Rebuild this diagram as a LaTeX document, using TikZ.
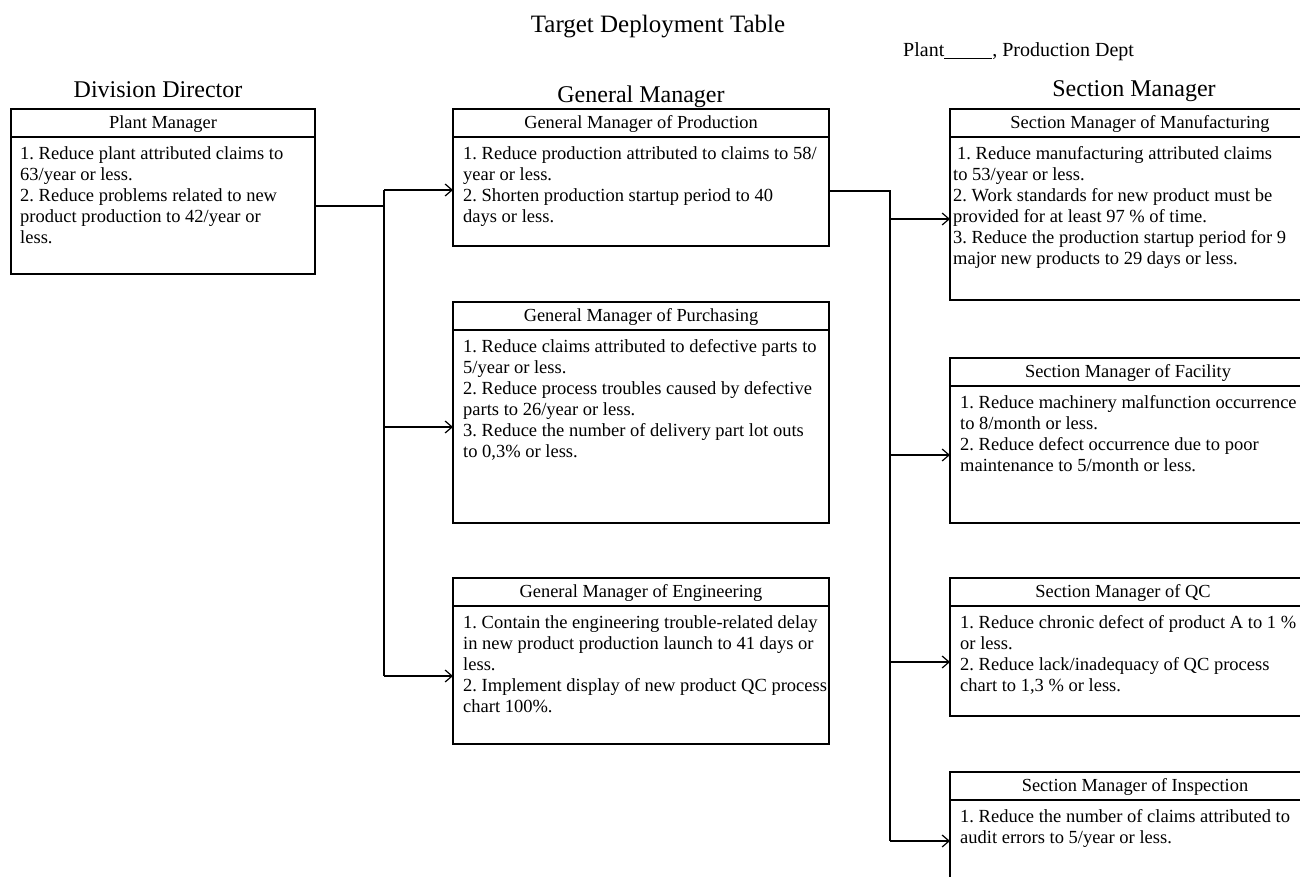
\documentclass[tikz,border=0pt]{standalone}
\usepackage{fontspec}
\setmainfont{Liberation Serif}
\usetikzlibrary{arrows.meta}

\tikzset{
  frame/.style={draw, line width=1.3pt, inner sep=0pt, outer sep=0pt, anchor=north west},
  rule/.style={line width=1.3pt},
  boxtitle/.style={anchor=base, inner sep=0pt, font=\fontsize{18.4}{21}\selectfont},
  boxbody/.style={anchor=north west, inner sep=0pt, align=left, font=\fontsize{18.5}{21}\selectfont\frenchspacing},
  colhead/.style={anchor=base, inner sep=0pt, font=\fontsize{24}{28}\selectfont},
  feed/.style={line width=2pt},
  link/.style={line width=1.2pt},
  arr/.style={line width=1.2pt, -{Straight Barb[length=7pt, width=12pt, line width=1.2pt]}},
}

% \goalbox{name}{left}{top}{width}{height}{title centre x}{body x offset}{title}{body}
\newcommand{\goalbox}[9]{%
  \node[frame, minimum width=#4, minimum height=#5] (#1) at (#2,#3) {};
  \draw[rule] ([shift={(0,28)}]#1.north west) -- ([shift={(0,28)}]#1.north east);
  \node[boxtitle] (#1-title) at (#6,#3+19.5) {#8};
  \node[boxbody] (#1-body) at (#2+#7,#3+35.3) {\strut#9};
}

\begin{document}
\begin{tikzpicture}[x=1pt, y=-1pt]
\useasboundingbox (0,0) rectangle (1300,877);
\clip (0,0) rectangle (1300,877);

% headings
\node[colhead, font=\fontsize{25}{29}\selectfont] (title) at (658,33) {Target Deployment Table};
\node[anchor=base west, inner sep=0pt, font=\fontsize{20}{24}\selectfont\frenchspacing] (plant) at (903,57)
  {Plant\underline{\hspace{48pt}}, Production Dept};
\node[colhead] (h-div) at (158,98) {Division Director};
\node[colhead] (h-gen) at (641,103) {General Manager};
\node[colhead] (h-sec) at (1134,97) {Section Manager};

% division level
\goalbox{pm}{11}{109}{304}{165}{163}{9}{Plant Manager}{%
1. Reduce plant attributed claims to\\
63/year or less.\\
2. Reduce problems related to new\\
product production to 42/year or\\
less.}

% general manager level
\goalbox{gmp}{453}{109}{376}{137}{641}{10}{General Manager of Production}{%
1. Reduce production attributed to claims to 58/\\
year or less.\\
2. Shorten production startup period to 40\\
days or less.}

\goalbox{gmu}{453}{302}{376}{221}{641}{10}{General Manager of Purchasing}{%
1. Reduce claims attributed to defective parts to\\
5/year or less.\\
2. Reduce process troubles caused by defective\\
parts to 26/year or less.\\
3. Reduce the number of delivery part lot outs\\
to 0,3\% or less.}

\goalbox{gme}{453}{578}{376}{166}{641}{10}{General Manager of Engineering}{%
1. Contain the engineering trouble-related delay\\
in new product production launch to 41 days or\\
less.\\
2. Implement display of new product QC process\\
chart 100\%.}

% section manager level
\goalbox{smm}{950}{109}{380}{191}{1140}{3}{Section Manager of Manufacturing}{%
\hspace*{4pt}1. Reduce manufacturing attributed claims\\
to 53/year or less.\\
2. Work standards for new product must be\\
provided for at least 97 \% of time.\\
3. Reduce the production startup period for 9\\
major new products to 29 days or less.}

\goalbox{smf}{950}{358}{380}{165}{1128}{10}{Section Manager of Facility}{%
1. Reduce machinery malfunction occurrence\\
to 8/month or less.\\
2. Reduce defect occurrence due to poor\\
maintenance to 5/month or less.}

\goalbox{smq}{950}{578}{380}{138}{1123}{10}{Section Manager of QC}{%
1. Reduce chronic defect of product A to 1 \%\\
or less.\\
2. Reduce lack/inadequacy of QC process\\
chart to 1,3 \% or less.}

\goalbox{smi}{950}{772}{380}{140}{1135}{10}{Section Manager of Inspection}{%
1. Reduce the number of claims attributed to\\
audit errors to 5/year or less.}

% division director -> general managers
\coordinate (a0) at (384,206);
\coordinate (a1) at (384,190);
\coordinate (a2) at (384,427);
\coordinate (a3) at (384,676);
\draw[feed] (pm.east |- a0) -- (a0) -- (a2);
\draw[link] (a0) -- (a1);
\draw[link] (a2) -- (a3);
\draw[arr] (a1) -- (a1 -| gmp.west);
\draw[arr] (a2) -- (a2 -| gmu.west);
\draw[arr] (a3) -- (a3 -| gme.west);

% general manager of production -> section managers
\coordinate (b0) at (890,191);
\coordinate (b1) at (890,219);
\coordinate (b2) at (890,455);
\coordinate (b3) at (890,662);
\coordinate (b4) at (890,841);
\draw[feed] (gmp.east |- b0) -- (b0) -- (b2);
\draw[link] (b2) -- (b4);
\draw[arr] (b1) -- (b1 -| smm.west);
\draw[arr] (b2) -- (b2 -| smf.west);
\draw[arr] (b3) -- (b3 -| smq.west);
\draw[arr] (b4) -- (b4 -| smi.west);
\end{tikzpicture}
\end{document}
